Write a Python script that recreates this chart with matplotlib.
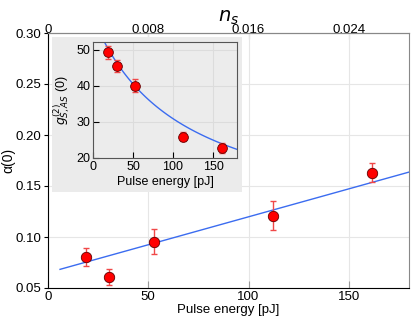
import matplotlib.pyplot as plt
from matplotlib.patches import Rectangle
import numpy as np

plt.rcParams['font.family'] = ['Liberation Sans', 'DejaVu Sans']

# main panel data
energy = [19, 30.5, 53, 112, 161.5]
alpha = [0.0805, 0.0605, 0.0955, 0.121, 0.163]
alpha_err = [0.0085, 0.008, 0.012, 0.0145, 0.0093]
alpha_fit = [0.0650, 0.000548]  # intercept, slope

# inset data
g2 = [49.3, 45.6, 40.0, 25.9, 22.9]
g2_err = [1.7, 1.7, 1.8, 1.2, 1.4]
g2_fit = [0.01696, 0.0001538]  # 1/g = a + b*E

ns_per_pj = 1.6e-4

red = '#ff0000'
err_col = '#f04848'
blue = '#3b6cf0'

fig = plt.figure(figsize=(4.15, 3.22), dpi=100)
ax = fig.add_axes([48/415, 34/322, 361/415, 255/322])

e_line = np.linspace(6, 180, 100)
ax.plot(e_line, alpha_fit[0] + alpha_fit[1]*e_line, color=blue, lw=1, zorder=2)
ax.errorbar(energy, alpha, yerr=alpha_err, fmt='none', ecolor=err_col,
            elinewidth=1, capsize=2.5, capthick=1, zorder=3)
ax.plot(energy, alpha, 'o', color=red, mec='#600000', mew=0.6, ms=7.5, zorder=4)

ax.set_xlim(0, 180)
ax.set_ylim(0.05, 0.30)
ax.set_xticks([0, 50, 100, 150])
ax.set_yticks([0.05, 0.10, 0.15, 0.20, 0.25, 0.30])
ax.set_yticklabels(['0.05', '0.10', '0.15', '0.20', '0.25', '0.30'])
ax.grid(True, color='#e6e6e6', lw=0.8)
ax.set_axisbelow(True)
ax.tick_params(axis='x', direction='in', length=5, color='#999999', labelsize=9.5, pad=2)
ax.tick_params(axis='y', direction='out', length=3, labelsize=9.5, pad=2)
ax.spines['top'].set_color('#888888')
ax.spines['right'].set_color('#888888')
ax.set_xlabel('Pulse energy [pJ]', fontsize=9.5, labelpad=1)
ax.set_ylabel('α(0)', fontsize=10)
ax.yaxis.set_label_coords(-0.09, 0.5)

top = ax.secondary_xaxis('top', functions=(lambda e: e*ns_per_pj, lambda n: n/ns_per_pj))
top.set_xticks([0, 0.008, 0.016, 0.024])
top.set_xticklabels(['0', '0.008', '0.016', '0.024'])
top.tick_params(direction='in', length=4, color='#999999', labelsize=9.5, pad=-2.5)
top.set_xlabel('$n_s$', fontsize=14, labelpad=2)
top.spines['top'].set_color('#888888')

# gray panel behind inset
fig.patches.append(Rectangle((52/415, 130/322), 190/415, 155/322, transform=fig.transFigure,
                             facecolor='#ebebeb', edgecolor='none', zorder=1))

ins = fig.add_axes([93/415, 164/322, 144/415, 116/322])
ins.set_zorder(5)
ins.set_facecolor('#ececec')
e_curve = np.linspace(10, 180, 100)
ins.plot(e_curve, 1/(g2_fit[0] + g2_fit[1]*e_curve), color=blue, lw=1, zorder=2)
ins.errorbar(energy, g2, yerr=g2_err, fmt='none', ecolor=err_col,
             elinewidth=1, capsize=2.5, capthick=1, zorder=3)
ins.plot(energy, g2, 'o', color=red, mec='#600000', mew=0.6, ms=7, zorder=4)
ins.set_xlim(0, 180)
ins.set_ylim(20, 52.2)
ins.set_xticks([0, 50, 100, 150])
ins.set_yticks([20, 30, 40, 50])
ins.grid(True, color='#dcdcdc', lw=0.8)
ins.set_axisbelow(True)
ins.tick_params(direction='in', length=4, labelsize=9, pad=2)
for s in ins.spines.values():
    s.set_color('#555555')
ins.set_xlabel('Pulse energy [pJ]', fontsize=9, labelpad=2)
ins.set_ylabel('$g^{(2)}_{S,AS}$ (0)', fontsize=9, labelpad=3)

fig.savefig('out.png', dpi=100)
